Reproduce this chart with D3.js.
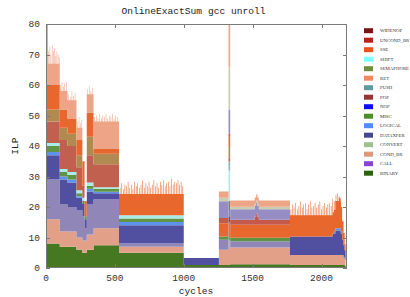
<!DOCTYPE html>
<html><head><meta charset="utf-8">
<script src="https://cdn.jsdelivr.net/npm/d3@7"></script>
<style>body{margin:0;background:#fff}svg{display:block}</style>
</head><body><svg id="c" width="410" height="297"></svg>
<script>
const title = "OnlineExactSum gcc unroll";
const xLabel = "cycles", yLabel = "ILP";
const xTicks = [0, 500, 1000, 1500, 2000];
const yTicks = [0, 10, 20, 30, 40, 50, 60, 70, 80];
const xMax = 2185, yMax = 80, endCycle = 2175;

// stacking order, bottom -> top
const stackOrder = ["BINARY","COND_BR","CALL","DATAXFER","LOGICAL","MISC","SHIFT","PUSH","POP","SEMAPHORE","SSE","UNCOND_BR","NOP","CONVERT","RET","WIDENOP"];
const legendOrder = ["WIDENOP","UNCOND_BR","SSE","SHIFT","SEMAPHORE","RET","PUSH","POP","NOP","MISC","LOGICAL","DATAXFER","CONVERT","COND_BR","CALL","BINARY"];

// each series: [cycle where value starts, ILP value]
const BINARY = [[0,8],[100,7],[221,6],[264,5],[296,6],[345,7.5],[530,5],[1000,1],[1337,1.2],[1771,1],[2168,0.8]];
const COND_BR = [[0,8],[100,5],[221,4],[296,5],[345,5.5],[530,2],[1000,0],[1255,5],[1325,8],[1337,5.5],[1771,3.3],[2160,2.5],[2168,2]];
const CALL = [[0,13],[100,9],[156,8],[221,9],[264,8],[280,4],[296,10],[345,9.5],[530,1],[1000,0],[1255,3.3],[1325,6],[1337,2.1],[1771,0]];
const DATAXFER = [[0,8],[100,8],[221,4],[280,3],[296,4],[345,2],[530,6],[1000,2.3],[1255,0],[1325,2],[1337,0],[1771,6],[2080,7],[2100,8],[2140,7],[2150,5],[2160,4],[2168,3]];
const LOGICAL = [[0,1],[221,0.5],[264,0],[296,1],[345,0.5],[530,1.1],[1000,0],[1325,2],[1337,0],[2090,0.7],[2150,0]];
const MISC = [[0,2],[100,1.5],[221,1],[530,1.1],[1000,0],[1255,1],[1325,3],[1337,1.1],[1771,0]];
const SHIFT = [[0,1],[280,0],[296,1],[345,0.5],[530,1.1],[1000,0],[1325,10],[1337,0]];
const PUSH = [[0,0],[1325,3],[1337,0]];
const POP = [[0,7],[100,9.5],[156,8.5],[221,7.5],[264,4],[280,0],[296,9],[345,7.5],[530,0],[1325,1],[1337,0]];
const SEMAPHORE = [[0,4],[264,0],[296,6],[345,3.5],[530,0],[1325,4],[1337,0]];
const SSE = [[0,8],[100,6],[156,5],[264,8],[280,5],[296,8],[345,1.5],[530,7],[1000,0],[1255,4.4],[1325,3],[1337,4.3],
  [1771,7],[2100,9],[2125,10],[2140,8],[2150,6],[2160,4],[2168,2]];
const UNCOND_BR = [[0,0],[1255,1.7],[1325,1],[1337,1.6],[1515,2.6],[1525,3.6],[1535,2.6],[1545,1.6],[1771,0]];
const NOP = [[0,0],[1255,5.5],[1325,8],[1337,3.5],[1771,0]];
const CONVERT = [[0,0],[1255,1.1],[1325,14],[1337,0.8],[1771,0]];
const RET = [[0,20],[14,7],[100,6],[221,4],[264,0],[296,6],[345,9],[530,0],[1255,2.1],[1325,14],[1337,2],[1771,0]];
const WIDENOP = [[0,0]];

// short bursts: [cycle, ILP value held for a few cycles]
const RET_SPIKES = [[17,11],[26,12.5],[34,10],[43,13],[52,11],[60,12],[69,9.5],[77,11],[86,10],[94,9],
  [104,8],[114,9],[124,7.5],[134,8.5],[145,9],[162,8],[174,7],[186,9],[198,7.5],[209,8.5],
  [226,6],[238,7.5],[250,5.5],[258,6.5],[301,7.5],[312,8.5],[324,7],[336,8],
  [352,10.5],[364,11],[375,10],[387,11.5],[399,10],[410,11],[422,10.5],[434,11.5],[445,10],[457,11],
  [469,10.5],[480,11.5],[492,10],[504,11],[515,10.5]];
const SSE_SPIKES = [[536,9],[548,10.5],[559,8.5],[571,10],[583,9.5],[594,11],[606,9],[618,10],[629,8.5],[641,11],
  [653,9.5],[664,10.5],[676,9],[688,10],[699,11.5],[711,9],[723,10.5],[734,9.5],[746,11],[758,9],[769,10],
  [781,11.5],[793,9.5],[804,10.5],[816,9],[828,11],[839,10],[851,11.5],[863,9.5],[874,10.5],[886,11],
  [898,9.5],[909,12],[921,10],[933,11],[944,10.5],[956,11.5],[968,10],[979,11],[991,9.5],
  [1776,9],[1788,10.5],[1799,9.5],[1811,11],[1823,9],[1834,10],[1846,11.5],[1858,9.5],[1869,10.5],[1881,11],
  [1893,9],[1904,10.5],[1916,11.5],[1928,9.5],[1939,10],[1951,11],[1963,9.5],[1974,10.5],[1986,11.5],[1998,9],
  [2009,10],[2021,11],[2033,9.5],[2044,10.5],[2056,11],[2068,10],[2079,11.5],[2091,10],[2103,11],[2114,11.5],
  [2126,10.5],[2138,9.5]];
const spikeLen = 4;

const seriesData = {BINARY, COND_BR, CALL, DATAXFER, LOGICAL, MISC, SHIFT, PUSH, POP, SEMAPHORE, SSE, UNCOND_BR, NOP, CONVERT, RET, WIDENOP};
const spikeData = {RET: RET_SPIKES, SSE: SSE_SPIKES};

// styles
const legendColor = {WIDENOP:"#7b1515",UNCOND_BR:"#b3231a",SSE:"#e5541b",SHIFT:"#7ffcfc",SEMAPHORE:"#6f8f3c",RET:"#ec8a5e",
  PUSH:"#5e9b9e",POP:"#963534",NOP:"#0a0aff",MISC:"#4a8e28",LOGICAL:"#4d8eff",DATAXFER:"#474790",CONVERT:"#9fc08f",
  COND_BR:"#df987c",CALL:"#8a45cf",BINARY:"#2b620e"};
const areaColor = {BINARY:"#467822",COND_BR:"#e2a088",CALL:"#9086b8",DATAXFER:"#5150a0",LOGICAL:"#5d92ee",MISC:"#5e9444",
  SHIFT:"#a8ece6",PUSH:"#8fb4b4",POP:"#c26050",SEMAPHORE:"#b08a50",SSE:"#e8672c",UNCOND_BR:"#c4584a",NOP:"#958dc4",
  CONVERT:"#c8ccb0",RET:"#eea486",WIDENOP:"#7b1515"};

// build table
const cycSet = new Set([endCycle]);
for (const k of stackOrder) for (const p of seriesData[k]) cycSet.add(p[0]);
for (const k in spikeData) for (const p of spikeData[k]) { cycSet.add(p[0]); cycSet.add(p[0] + spikeLen); }
const cycles = Array.from(cycSet).sort((a,b)=>a-b);
function valueAt(arr, c){ let v = 0; for (const p of arr){ if (p[0] <= c) v = p[1]; else break; } return v; }
function spikeAt(arr, c){ for (const p of arr) if (c >= p[0] && c < p[0] + spikeLen) return p[1]; return null; }
const table = cycles.map(c => {
  const row = {cycle: c};
  for (const k of stackOrder) {
    let v = c >= endCycle ? 0 : valueAt(seriesData[k], c);
    if (spikeData[k] && c < endCycle) { const s = spikeAt(spikeData[k], c); if (s !== null) v = s; }
    row[k] = v;
  }
  return row;
});

const svg = d3.select("#c");
const m = {l:46, r:347, t:24, b:268};
const x = d3.scaleLinear().domain([0, xMax]).range([m.l, m.r]);
const y = d3.scaleLinear().domain([0, yMax]).range([m.b, m.t]);

svg.append("defs").append("clipPath").attr("id","clip").append("rect")
  .attr("x",m.l).attr("y",m.t).attr("width",m.r-m.l).attr("height",m.b-m.t);

const stacked = d3.stack().keys(stackOrder)(table);
const area = d3.area().curve(d3.curveStepAfter)
  .x(d => x(d.data.cycle)).y0(d => y(d[0])).y1(d => y(d[1]));
svg.append("g").attr("clip-path","url(#clip)").selectAll("path").data(stacked).join("path")
  .attr("d", area).attr("fill", d => areaColor[d.key]);

// axes / border
const axisCol = "#7a7a7a";
const tk = 4;
const g = svg.append("g").attr("stroke", axisCol).attr("stroke-width", 1);
xTicks.forEach(t => {
  const px = Math.round(x(t)) + 0.5;
  g.append("line").attr("x1",px).attr("x2",px).attr("y1",m.b).attr("y2",m.b-tk);
  g.append("line").attr("x1",px).attr("x2",px).attr("y1",m.t).attr("y2",m.t+tk);
});
yTicks.forEach(t => {
  const py = Math.round(y(t)) + 0.5;
  g.append("line").attr("x1",m.l).attr("x2",m.l+tk).attr("y1",py).attr("y2",py);
  g.append("line").attr("x1",m.r).attr("x2",m.r-tk).attr("y1",py).attr("y2",py);
});
g.append("rect").attr("x",m.l+0.5).attr("y",m.t+0.5).attr("width",m.r-m.l-1).attr("height",m.b-m.t-1).attr("fill","none");

const font = "'Liberation Mono', 'DejaVu Sans Mono', monospace";
svg.append("g").selectAll("text").data(xTicks).join("text")
  .attr("x", d => x(d)).attr("y", 281).attr("text-anchor","middle")
  .attr("font-family", font).attr("font-size", 9.5).attr("fill","#333").text(d => d);
svg.append("g").selectAll("text").data(yTicks).join("text")
  .attr("x", 40).attr("y", d => y(d) + 3.2).attr("text-anchor","end")
  .attr("font-family", font).attr("font-size", 9.5).attr("fill","#333").text(d => d);

svg.append("text").attr("x",193.5).attr("y",14).attr("text-anchor","middle")
  .attr("font-family",font).attr("font-size",9.6).attr("fill","#222").text(title);
svg.append("text").attr("x",196).attr("y",293.5).attr("text-anchor","middle")
  .attr("font-family",font).attr("font-size",9.6).attr("fill","#222").text(xLabel);
svg.append("text").attr("transform","translate(18,146) rotate(-90)").attr("text-anchor","middle")
  .attr("font-family",font).attr("font-size",9.6).attr("fill","#222").text(yLabel);

// legend
const lg = svg.append("g");
legendOrder.forEach((k, i) => {
  const cy = 30.7 + i * 9.5;
  lg.append("rect").attr("x",364).attr("y",cy-2.5).attr("width",9).attr("height",5).attr("fill",legendColor[k]);
  lg.append("text").attr("x",380).attr("y",cy+1.7).attr("font-family","'Liberation Serif', serif")
    .attr("font-size",4.8).attr("fill","#333").text(k);
});
</script></body></html>
